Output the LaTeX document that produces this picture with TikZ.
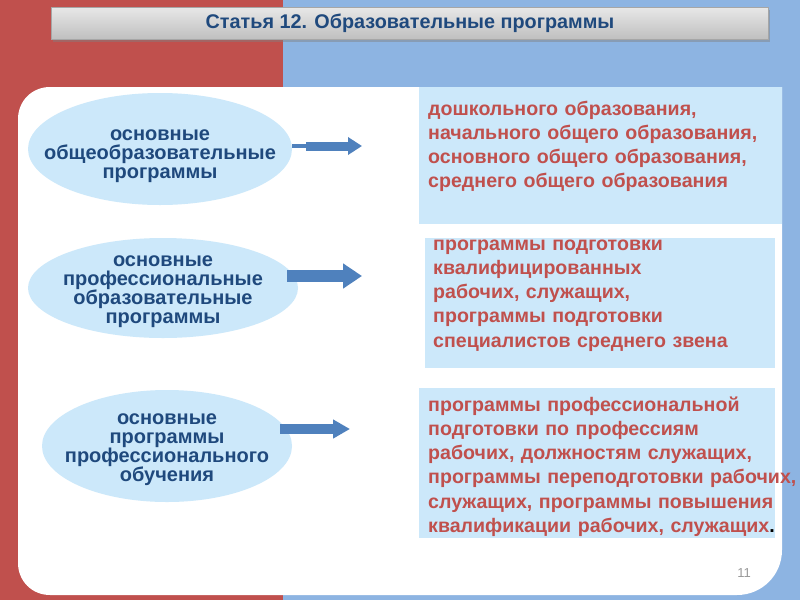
\documentclass[tikz,border=0pt]{standalone}
\usepackage{fontspec}
\setmainfont{Liberation Sans}
\usetikzlibrary{shapes.geometric,arrows.meta,shadows}
\definecolor{slidered}{HTML}{C0504D}
\definecolor{slideblue}{HTML}{8DB4E2}
\definecolor{paleblue}{HTML}{CCE8FA}
\definecolor{navy}{HTML}{1F497D}
\definecolor{arrowblue}{HTML}{4F81BD}

\begin{document}
\begin{tikzpicture}[x=1pt,y=-1pt,
    oval/.style={ellipse,fill=paleblue,inner sep=0pt},
    oval text/.style={align=center,text=navy,inner sep=0pt,
                 font=\fontsize{20}{19}\selectfont\bfseries},
    box/.style={rectangle,fill=paleblue,inner sep=0pt,anchor=north west},
    box text/.style={anchor=base west,inner sep=0pt,text width=380pt,align=left,
                 text=slidered,font=\fontsize{19.6}{24.3}\selectfont\bfseries},
    fat arrow/.style={draw=arrowblue,line width=#1}]
\useasboundingbox (0,0) rectangle (800,600);

% background halves and white panel
\fill[slidered] (0,0) rectangle (283,600);
\fill[slideblue] (283,0) rectangle (800,600);
\fill[white] (782,87) -- (50,87) .. controls (32,87) and (18,101) .. (18,119)
  -- (18,563) .. controls (18,581) and (32,595) .. (50,595)
  -- (737,595) .. controls (762,595) and (782,575) .. (782,550) -- cycle;

% title
\node[rectangle,minimum width=717pt,minimum height=32pt,draw=gray!70,
      top color=gray!18,bottom color=gray!50,
      drop shadow={shadow xshift=1pt,shadow yshift=-3pt,opacity=.45},
      text=navy,font=\fontsize{19.8}{20}\selectfont\bfseries]
  (0) at (410,23) {Статья 12. Образовательные программы};

% left: kinds of programmes
\node[oval,minimum width=264pt,minimum height=112pt,
      label={[oval text,yshift=-7.5pt]center:{основные\\общеобразовательные\\программы}}]
  (1) at (160,149) {};
\node[oval,minimum width=270pt,minimum height=100pt,
      label={[oval text,yshift=-4pt]center:{основные\\профессиональные\\образовательные\\программы}}]
  (2) at (163,288) {};
\node[oval,minimum width=250pt,minimum height=112pt,
      label={[oval text,yshift=-4pt]center:{основные\\программы\\профессионального\\обучения}}]
  (3) at (167,446) {};

% right: what they include
\node[box,minimum width=363pt,minimum height=137pt] (4) at (419,87) {};
\node[box,minimum width=350pt,minimum height=130pt] (5) at (425,238) {};
\node[box,minimum width=356pt,minimum height=150pt] (6) at (419,388) {};

\node[box text] (7) at ([xshift=9pt,yshift=-28pt]4.north west)
  {дошкольного образования,\\начального общего образования,\\
   основного общего образования,\\среднего общего образования};
\node[box text] (8) at ([xshift=8pt,yshift=-12pt]5.north west)
  {программы подготовки\\квалифицированных\\рабочих, служащих,\\
   программы подготовки\\специалистов среднего звена};
\node[box text] (9) at ([xshift=9pt,yshift=-23pt]6.north west)
  {программы профессиональной\\подготовки по профессиям\\
   рабочих, должностям служащих,\\программы переподготовки рабочих,\\
   служащих, программы повышения\\квалификации рабочих, служащих\textcolor{black}{.}};

% arrows
\coordinate (t1) at (362,146);
\coordinate (t2) at (362,276);
\coordinate (t3) at (350,429);
\draw[fat arrow=4pt] (1.east |- t1) -- ([xshift=-56pt]t1);
\draw[fat arrow=9pt,-{Triangle[length=14pt,width=17pt]}] ([xshift=-56pt]t1) -- (t1);
\draw[fat arrow=12pt,-{Triangle[length=19pt,width=24pt]}] ([xshift=-75pt]t2) -- (t2);
\draw[fat arrow=10pt,-{Triangle[length=17pt,width=18pt]}] ([xshift=-70pt]t3) -- (t3);

\node[text=gray!80,font=\fontsize{13}{13}\selectfont] (10) at (744,573) {11};
\end{tikzpicture}
\end{document}
